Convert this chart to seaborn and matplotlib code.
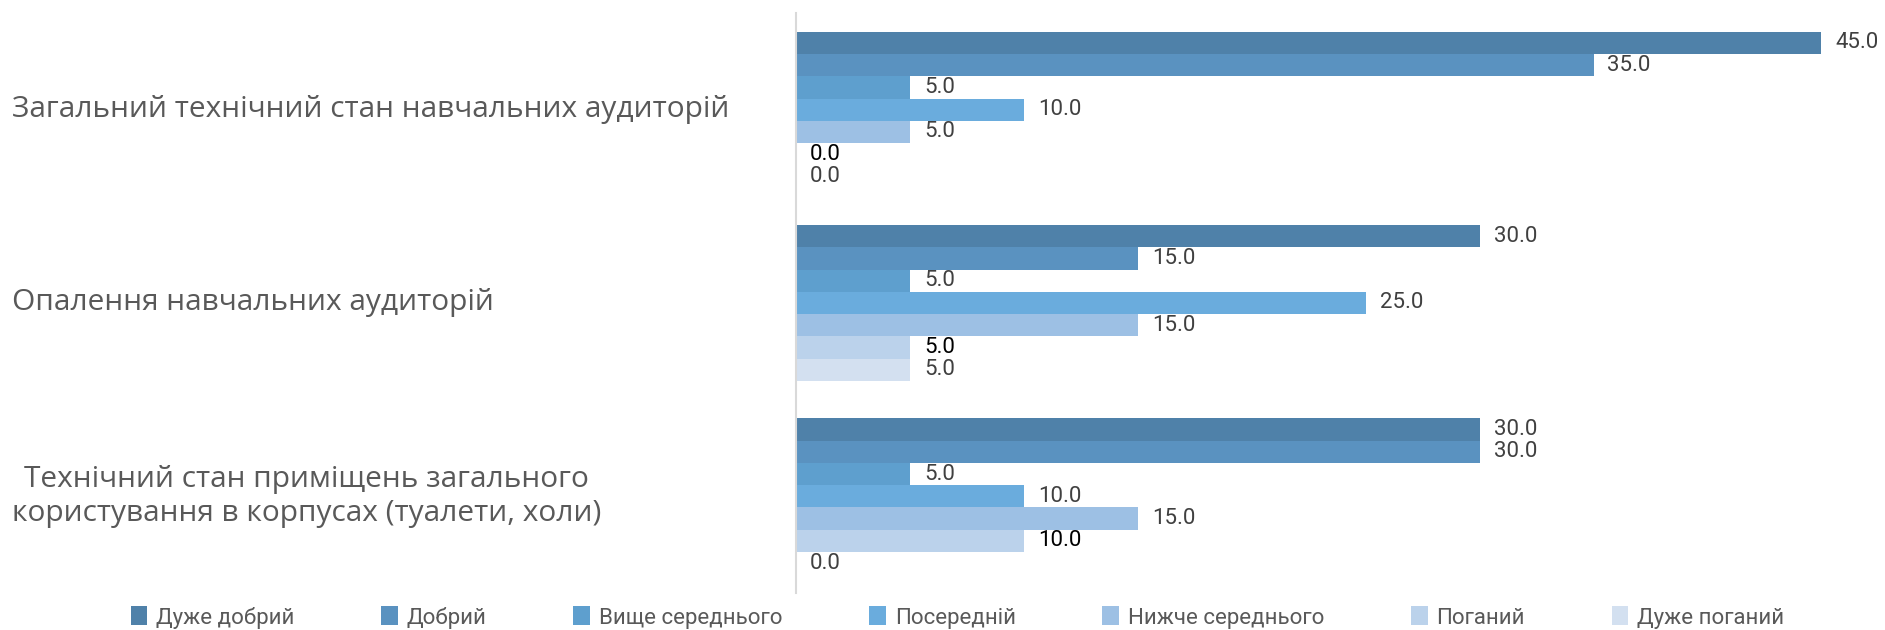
import pandas as pd
import seaborn as sns
import matplotlib.pyplot as plt
from matplotlib.patches import Patch

# Дані
categories = [
    'Загальний технічний стан навчальних аудиторій',
    'Опалення навчальних аудиторій',
    'Технічний стан приміщень загального\nкористування в корпусах (туалети, холи)',
]
ratings = ['Дуже добрий', 'Добрий', 'Вище середнього', 'Посередній',
           'Нижче середнього', 'Поганий', 'Дуже поганий']

very_good = [45.0, 30.0, 30.0]
good = [35.0, 15.0, 30.0]
above_avg = [5.0, 5.0, 5.0]
average = [10.0, 25.0, 10.0]
below_avg = [5.0, 15.0, 15.0]
bad = [0.0, 5.0, 10.0]
very_bad = [0.0, 5.0, 0.0]

colors = ['#4F81A9', '#5A92C0', '#5E9FCE', '#6AACDD',
          '#9DC0E4', '#BBD2EB', '#D3E0F0']

series = [very_good, good, above_avg, average, below_avg, bad, very_bad]
rows = []
for name, vals in zip(ratings, series):
    for cat, v in zip(categories, vals):
        rows.append({'category': cat, 'rating': name, 'value': v})
df = pd.DataFrame(rows)

sns.set_theme(style='white')
plt.rcParams['font.family'] = ['Roboto', 'DejaVu Sans']

fig = plt.figure(figsize=(18.85, 6.3), dpi=100)
ax = fig.add_axes([796 / 1885, 1 - 593 / 630, (1867 - 796) / 1885, 580 / 630])

sns.barplot(
    data=df, x='value', y='category', hue='rating', orient='h',
    order=categories, hue_order=ratings, palette=colors,
    width=0.807, saturation=1, errorbar=None, linewidth=0,
    legend=False, ax=ax,
)

ax.set_xlim(0, 47)
ax.set_xlabel('')
ax.set_ylabel('')
ax.set_xticks([])
ax.set_yticks([])
for s in ['top', 'right', 'bottom']:
    ax.spines[s].set_visible(False)
ax.spines['left'].set_color('#D9D9D9')
ax.spines['left'].set_linewidth(1.5)

# Підписи значень
for i, cont in enumerate(ax.containers):
    col = 'black' if ratings[i] == 'Поганий' else '#404040'
    ax.bar_label(cont, fmt='%.1f', padding=10, fontsize=16, color=col,
                 clip_on=False)

# Категорії зліва
for i, cat in enumerate(categories):
    ax.text((12 - 796) / (1867 - 796), i, cat,
            transform=ax.get_yaxis_transform(), ha='left', va='center',
            multialignment='center', fontsize=21.5, color='#595959',
            family=['Open Sans', 'DejaVu Sans'], linespacing=1.25)

handles = [Patch(facecolor=c, edgecolor='none') for c in colors]
fig.legend(handles, ratings, loc='center', bbox_to_anchor=(0.508, 0.02),
           ncol=7, frameon=False, fontsize=16, handlelength=0.75,
           handleheight=0.95, handletextpad=0.4, columnspacing=3.9,
           labelcolor='#595959')

fig.savefig('out.png', dpi=100)
